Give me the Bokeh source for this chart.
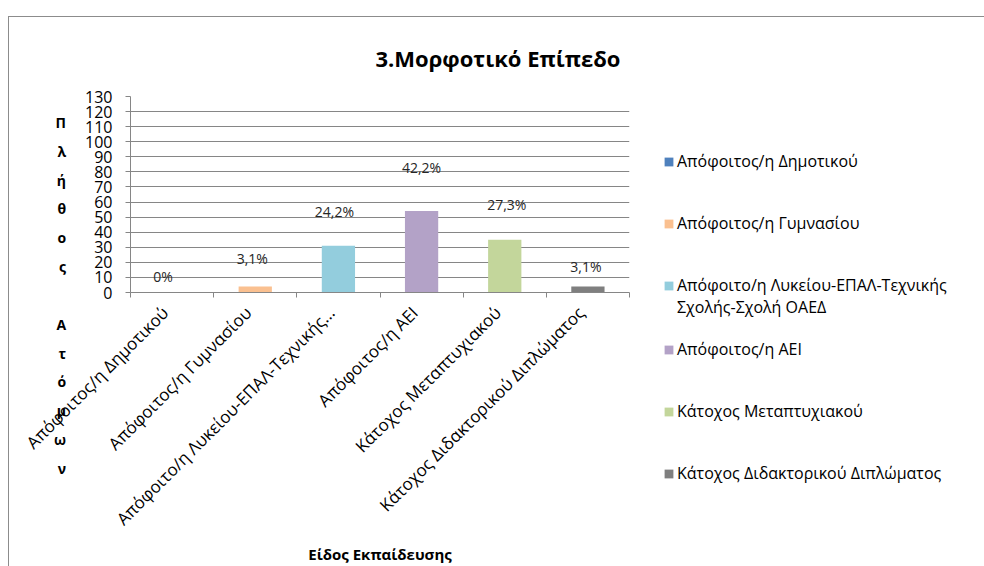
import math
from bokeh.plotting import figure
from bokeh.models import (ColumnDataSource, FixedTicker, Legend, LegendItem, Range1d, Title)
from bokeh.embed import file_html
from bokeh.resources import INLINE
from bokeh.core.properties import value

# ---- data ----
title_text = "3.Μορφοτικό  Επίπεδο"
y_title = "Πλήθος Ατόμων"
x_title = "Είδος Εκπαίδευσης"
axis_labels = ["Απόφοιτος/η Δημοτικού", "Απόφοιτος/η Γυμνασίου",
               "Απόφοιτο/η Λυκείου-ΕΠΑΛ-Τεχνικής...", "Απόφοιτος/η ΑΕΙ",
               "Κάτοχος Μεταπτυχιακού", "Κάτοχος Διδακτορικού Διπλώματος"]
legend_labels = ["Απόφοιτος/η Δημοτικού", "Απόφοιτος/η Γυμνασίου",
                 "Απόφοιτο/η Λυκείου-ΕΠΑΛ-Τεχνικής\nΣχολής-Σχολή ΟΑΕΔ", "Απόφοιτος/η ΑΕΙ",
                 "Κάτοχος Μεταπτυχιακού", "Κάτοχος Διδακτορικού Διπλώματος"]
counts = [0, 4, 31, 54, 35, 4]
percent_labels = ["0%", "3,1%", "24,2%", "42,2%", "27,3%", "3,1%"]
colors = ["#4F81BD", "#FAC090", "#93CDDD", "#B3A2C7", "#C3D69B", "#7F7F7F"]
y_ticks = list(range(0, 131, 10))

# ---- style ----
label_dx = [-9, -3, -4, 0, 2, -2]
label_dy = [-16, -28, -34, -44, -35, -20]
tick_shift = 0.084         # category label anchor shift (data units)
FONT = "Open Sans"
GRID = "#868686"

n = len(counts)
xs = [i + 0.5 for i in range(n)]
src = ColumnDataSource(dict(x=xs, top=counts, color=colors, pct=percent_labels,
                            dx=label_dx, dy=label_dy))

p = figure(output_backend="svg", toolbar_location=None,
           x_range=Range1d(0, n), y_range=Range1d(0, 130),
           frame_width=499, frame_height=196,
           min_border_left=121, min_border_right=355,
           min_border_top=78, min_border_bottom=275)
p.margin = (16, 0, 0, 8)
p.styles = {"border-left": "1px solid #8c8c8c", "border-top": "1px solid #8c8c8c"}
p.outline_line_color = None
p.background_fill_color = "white"
p.border_fill_color = "white"

# title
p.title = Title(text=title_text, align="left", offset=245, standoff=47,
                text_font=FONT, text_font_size="22px", text_font_style="bold",
                text_color="black")

# y axis
p.yaxis.ticker = FixedTicker(ticks=y_ticks, minor_ticks=[])
p.yaxis.axis_line_color = GRID
p.yaxis.major_tick_line_color = GRID
p.yaxis.major_tick_out = 5
p.yaxis.major_tick_in = 0
p.yaxis.minor_tick_line_color = None
p.yaxis.major_label_text_font = FONT
p.yaxis.major_label_text_font_size = "16px"
p.yaxis.major_label_text_color = "black"
p.yaxis.major_label_standoff = 13
p.yaxis.axis_label = "\n".join([""] * 7 + list(y_title))
p.yaxis.axis_label_orientation = "horizontal"
p.yaxis.axis_label_text_font = FONT
p.yaxis.axis_label_text_font_size = "14px"
p.yaxis.axis_label_text_font_style = "bold"
p.yaxis.axis_label_text_color = "black"
p.yaxis.axis_label_text_line_height = 1.518
p.yaxis.axis_label_standoff = 16

# x axis
tick_pos = [x - tick_shift for x in xs]
p.xaxis.ticker = FixedTicker(ticks=tick_pos, minor_ticks=list(range(n + 1)))
p.xaxis.major_label_overrides = {t: lab for t, lab in zip(tick_pos, axis_labels)}
p.xaxis.major_tick_out = 0
p.xaxis.major_tick_in = 0
p.xaxis.minor_tick_out = 5
p.xaxis.minor_tick_in = 0
p.xaxis.minor_tick_line_color = GRID
p.xaxis.axis_line_color = GRID
p.xaxis.major_label_orientation = math.pi / 4
p.xaxis.major_label_text_font = FONT
p.xaxis.major_label_text_font_size = "17px"
p.xaxis.major_label_text_color = "black"
p.xaxis.major_label_standoff = 12
p.xaxis.axis_label = x_title
p.xaxis.axis_label_text_font = FONT
p.xaxis.axis_label_text_font_size = "15px"
p.xaxis.axis_label_text_font_style = "bold"
p.xaxis.axis_label_text_color = "black"
p.xaxis.axis_label_standoff = 3

p.xgrid.visible = False
p.ygrid.grid_line_color = GRID
p.ygrid.grid_line_width = 1

bars = p.vbar(x="x", top="top", width=0.4, fill_color="color", line_color=None, source=src)

p.text(x="x", y="top", text="pct", x_offset="dx", y_offset="dy",
       text_align="center", text_baseline="middle", text_font=value(FONT),
       text_font_size="14px", text_color="#262626", source=src)

# legend: rows of 20 px; one leading blank row; each category takes 3 rows,
# a wrapped line uses the next row
blank = p.vbar(x=[], top=[], width=0.4, fill_alpha=0, line_alpha=0)
rows = {}
for i, lab in enumerate(legend_labels):
    for k, line in enumerate(lab.split("\n")):
        rows[1 + 3 * i + k] = (line, i if k == 0 else None)
n_rows = 1 + 3 * (n - 1) + 1
items = []
for r in range(n_rows):
    if r in rows and rows[r][1] is not None:
        items.append(LegendItem(label=rows[r][0], renderers=[bars], index=rows[r][1]))
    else:
        items.append(LegendItem(label=rows[r][0] if r in rows else " ", renderers=[blank]))
legend = Legend(items=items, location="top_left", glyph_width=11, glyph_height=11,
                label_height=20, spacing=0, padding=0, margin=34, label_standoff=3,
                border_line_color=None, background_fill_alpha=0,
                label_text_font=FONT, label_text_font_size="16px",
                label_text_line_height=1.0,
                label_text_baseline="middle", label_text_color="black")
p.add_layout(legend, "right")

open("out.html", "w").write(file_html(p, INLINE))
